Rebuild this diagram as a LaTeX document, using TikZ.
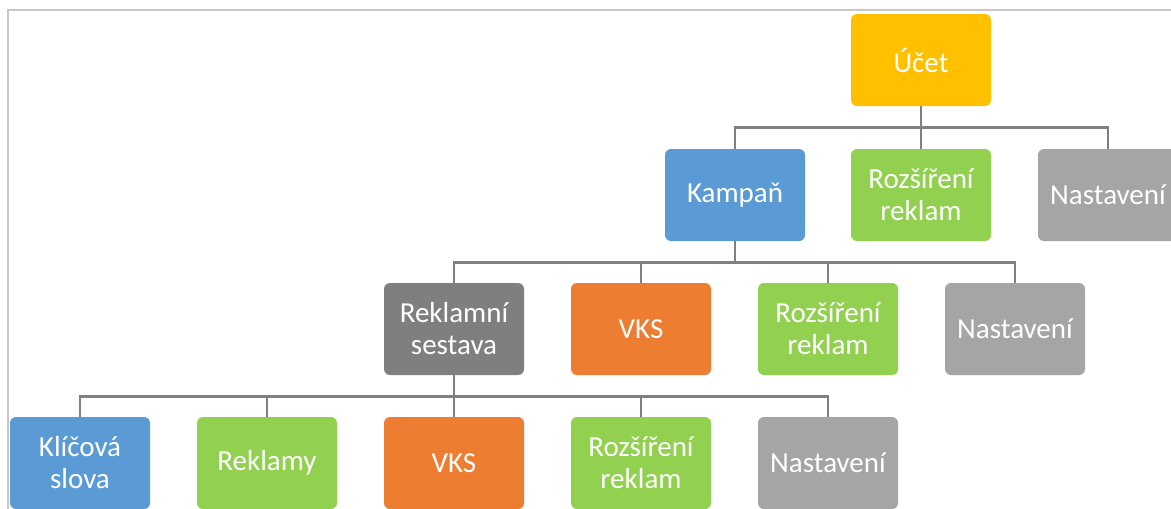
\documentclass[tikz,border=0pt]{standalone}
\usepackage{fontspec}
\setmainfont{Carlito}
\definecolor{zlata}{HTML}{FFC000}
\definecolor{modra}{HTML}{5B9BD5}
\definecolor{zelena}{HTML}{92D050}
\definecolor{seda}{HTML}{A5A5A5}
\definecolor{tmavoseda}{HTML}{7F7F7F}
\definecolor{oranzova}{HTML}{ED7D31}
\tikzset{
  box/.style={minimum width=140pt,minimum height=92pt,rounded corners=6pt,
    text=white,align=center,font=\fontsize{29}{32}\selectfont,inner sep=2pt},
  link/.style={draw=black!50,line width=2.8pt}
}
\begin{document}
\begin{tikzpicture}[x=1pt,y=-1pt]
\clip (0,0) rectangle (1171,509);
\fill[white] (0,0) rectangle (1171,509);
\draw[black!22,line width=1.5pt] (8,509) -- (8,10) -- (1171,10);
% account level
\node[box,fill=zlata] (ucet) at (921,60) {Účet};
% campaign level
\node[box,fill=modra] (kampan) at (735,195) {Kampaň};
\node[box,fill=zelena] (rozsireniA) at (921,195) {Rozšíření\\reklam};
\node[box,fill=seda] (nastaveniA) at (1108,195) {Nastavení};
% ad group level
\node[box,fill=tmavoseda] (sestava) at (454,329) {Reklamní\\sestava};
\node[box,fill=oranzova] (vksA) at (641,329) {VKS};
\node[box,fill=zelena] (rozsireniB) at (828,329) {Rozšíření\\reklam};
\node[box,fill=seda] (nastaveniB) at (1015,329) {Nastavení};
% lowest level
\node[box,fill=modra] (klicova) at (80,463) {Klíčová\\slova};
\node[box,fill=zelena] (reklamy) at (267,463) {Reklamy};
\node[box,fill=oranzova] (vksB) at (454,463) {VKS};
\node[box,fill=zelena] (rozsireniC) at (641,463) {Rozšíření\\reklam};
\node[box,fill=seda] (nastaveniC) at (828,463) {Nastavení};

\foreach \child in {kampan,rozsireniA,nastaveniA}
  \draw[link] (ucet.south) -- ++(0,21) -| (\child.north);
\foreach \child in {sestava,vksA,rozsireniB,nastaveniB}
  \draw[link] (kampan.south) -- ++(0,21) -| (\child.north);
\foreach \child in {klicova,reklamy,vksB,rozsireniC,nastaveniC}
  \draw[link] (sestava.south) -- ++(0,21) -| (\child.north);
\end{tikzpicture}
\end{document}
